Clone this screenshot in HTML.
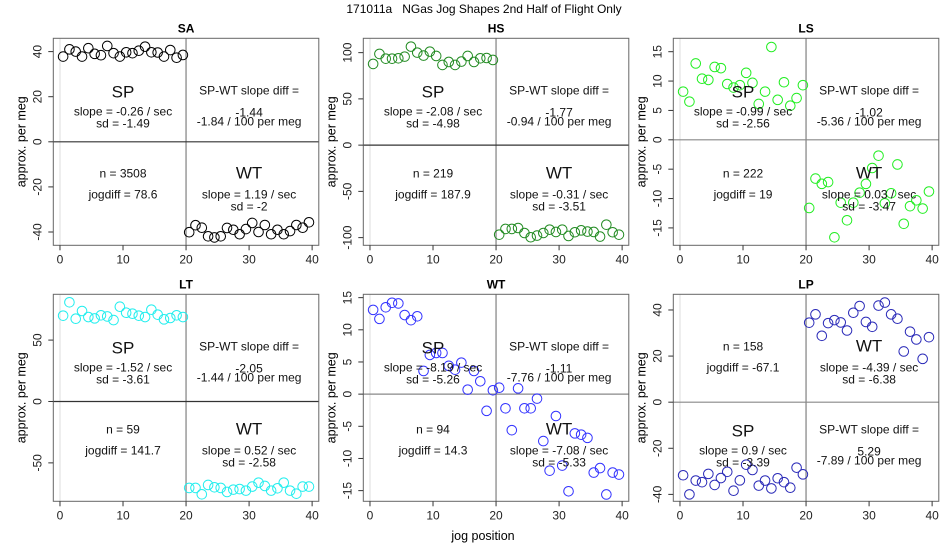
<!DOCTYPE html>
<html><head><meta charset="utf-8"><style>
body{margin:0;background:#fff}
svg{display:block;font-family:"Liberation Sans",sans-serif}
</style></head><body>
<svg id="chart" width="950" height="550" viewBox="0 0 950 550" xmlns="http://www.w3.org/2000/svg">
<text x="484" y="13" font-size="12" text-anchor="middle" fill="#000" style="white-space:pre" xml:space="preserve">171011a   NGas Jog Shapes 2nd Half of Flight Only</text>
<text x="483" y="540" font-size="12.5" text-anchor="middle" fill="#000">jog position</text>
</svg>
<script>
const panelNames = ["SA","HS","LS","LT","WT","LP"];
const spSA = [37.8,41,40,37.8,41.5,39,38.4,42.5,39.3,37.8,39.7,39.3,40.4,42.2,39.7,39.6,37.8,40.7,37.3,38.5];
const wtSA = [-40.1,-37,-38.1,-41.9,-42.4,-41.9,-38.2,-39,-41,-38.7,-36,-40,-36.9,-41,-39,-41,-39.6,-36.9,-38.1,-35.7];
const spHS = [87.8,98.6,93.5,93.5,93.9,95.7,106.5,100,96.8,101.1,96.4,86.7,89.9,86.7,90.3,96.4,89.9,93.9,94.2,92.1];
const wtHS = [-96.8,-90.6,-90.6,-89.6,-95,-99.6,-97.8,-95,-91.4,-93.9,-91.4,-98.2,-94.2,-92.1,-93.5,-93.9,-98.9,-86,-94.2,-96.8];
const spLS = [8.2,6.5,13.0,10.4,10.2,12.4,12.2,9.5,8.9,9.3,11.4,9.7,6.1,8.2,15.8,6.8,9.8,5.8,7.1,9.3];
const wtLS = [-11.6,-6.6,-7.5,-7.2,-16.6,-10.7,-13.7,-10.7,-9.0,-7.5,-4.8,-2.7,-10.8,-9.1,-4.2,-14.3,-11.3,-10.3,-11.7,-8.8];
const spLT = [69.9,80.8,67.4,73.7,68.8,67.7,70.2,69.3,66.3,77.2,72.3,71.5,69.9,68.8,74.8,70.7,66.9,68,70.2,68.8];
const wtLT = [-70.4,-70.4,-75.6,-68,-69.9,-70.4,-73.7,-71.8,-71.3,-72.6,-69.3,-66.1,-68.8,-72.6,-70.7,-66.1,-72.6,-75.1,-69.3,-69.3];
const spWT = [13.1,11.7,13.5,14.2,14.1,12.3,11.5,12.1,3.6,6.1,6.4,6.4,4.4,3.8,4.9,0.7,3.6,2.0,-2.6,0.6];
const wtWT = [1.0,-2.2,-5.6,0.9,-2.2,-2.2,-0.7,-7.3,-11.9,-3.4,-11.1,-15.1,-6.1,-6.3,-6.8,-12.2,-11.5,-15.6,-12.2,-12.5];
const spLP = [-31.7,-40,-34,-34.7,-31.1,-35.9,-32.9,-30.2,-38.4,-33.9,-27.1,-29.4,-36.2,-34,-37.4,-33,-34.7,-37.1,-28.4,-31.3];
const wtLP = [34.5,38.1,28.8,34.3,35.6,34.6,31.1,38.8,41.7,34.8,32.7,41.9,43.2,38.1,36.2,22,30.6,27.2,18.8,28.2];
const xTicks = [0,10,20,30,40];
const yTicksSA = [-40,-20,0,20,40];
const yTicksHS = [-100,-50,0,50,100];
const yTicksLS = [-15,-10,-5,0,5,10,15];
const yTicksLT = [-50,0,50];
const yTicksWT = [-15,-10,-5,0,5,10,15];
const yTicksLP = [-40,-20,0,20,40];
const yLimits = [[-45.9,45.9],[-108.3,115.5],[-17.96,17.28],[-81.3,87.3],[-16.66,15.52],[-43,46.8]];
const spSlope = ["-0.26","-2.08","-0.99","-1.52","-8.19","0.9"];
const spSd = ["-1.49","-4.98","-2.56","-3.61","-5.26","-3.39"];
const wtSlope = ["1.19","-0.31","0.03","0.52","-7.08","-4.39"];
const wtSd = ["-2","-3.51","-3.47","-2.58","-5.33","-6.38"];
const diffVal = ["-1.44","-1.77","-1.02","-2.05","-1.11","5.29"];
const perMeg = ["-1.84","-0.94","-5.36","-1.44","-7.76","-7.89"];
const nVals = ["3508","219","222","59","94","158"];
const jogdiff = ["78.6","187.9","19","141.7","14.3","-67.1"];

const spData=[spSA,spHS,spLS,spLT,spWT,spLP];
const wtData=[wtSA,wtHS,wtLS,wtLT,wtWT,wtLP];
const yTicks=[yTicksSA,yTicksHS,yTicksLS,yTicksLT,yTicksWT,yTicksLP];
const colors=["#000","#228b22","#22ee22","#22eeee","#3333ff","#2a2ab8"];
const zeroCol=["#333","#333","#888","#333","#888","#888"];
const NS="http://www.w3.org/2000/svg";
const svg=document.getElementById('chart');
function mk(tag,attrs,parent){const e=document.createElementNS(NS,tag);for(const k in attrs)e.setAttribute(k,attrs[k]);(parent||svg).appendChild(e);return e;}
const colL=[53.3,363.3,673.3], W=265.5, rowT=[38.3,294.3], H=207;
panelNames.forEach((name,p)=>{
  const L=colL[p%3], T=rowT[Math.floor(p/3)];
  const g=mk('g',{});
  
  
  const [y0,y1]=yLimits[p];
  const sx=v=>L+(v+1.06)/42.12*W;
  const sy=v=>T+(y1-v)/(y1-y0)*H;
  const t=mk('text',{x:L+W/2,y:T-6,'font-size':12,'font-weight':'bold','text-anchor':'middle'},g);t.textContent=name;
  
  
  mk('line',{x1:sx(0),x2:sx(0),y1:T,y2:T+H,stroke:'#ddd'},g);
  mk('line',{x1:sx(20),x2:sx(20),y1:T,y2:T+H,stroke:'#999','stroke-width':1.5},g);
  mk('line',{x1:L,x2:L+W,y1:sy(0),y2:sy(0),stroke:zeroCol[p],'stroke-width':1.2},g);
  const box=mk('rect',{x:L,y:T,width:W,height:H,fill:'none',stroke:'#666'},g);
  
  
  xTicks.forEach(v=>{mk('line',{x1:sx(v),x2:sx(v),y1:T+H,y2:T+H+5,stroke:'#333'},g);
    const tx=mk('text',{x:sx(v),y:T+H+18,'font-size':12,'text-anchor':'middle',fill:'#222'},g);tx.textContent=v;
    
    });
  yTicks[p].forEach(v=>{mk('line',{x1:L,x2:L-5,y1:sy(v),y2:sy(v),stroke:'#333'},g);
    const ty=mk('text',{x:L-12,y:sy(v),'font-size':12,'text-anchor':'middle',fill:'#222',transform:`rotate(-90 ${L-12} ${sy(v)})`,dy:'0'},g);ty.textContent=v;
    
    });
  const yl=mk('text',{x:L-28,y:T+H/2,'font-size':12.5,'text-anchor':'middle',transform:`rotate(-90 ${L-28} ${T+H/2})`},g);yl.textContent='approx. per meg';
  
  
  spData[p].forEach((v,i)=>{const c=mk('circle',{cx:sx(i+0.5),cy:sy(v),r:4.8,fill:'none',stroke:colors[p]},g);
    
    });
  wtData[p].forEach((v,i)=>{const c=mk('circle',{cx:sx(i+20.5),cy:sy(v),r:4.8,fill:'none',stroke:colors[p]},g);
    
    });
  const swap = name==="LP";
  const topY=T, botY=T+83;
  const spX=sx(10), wtX=sx(30);
  const spTop = swap? botY : topY, wtTop = swap? topY : botY;
  const txt=(x,y,s,sz,dn)=>{const e=mk('text',{x:x,y:y,'font-size':sz,'text-anchor':'middle',fill:'#111'},g);e.textContent=s;
    
    };
  txt(spX,spTop+59,'SP',17,'sp-label');
  txt(spX,spTop+77,'slope = '+spSlope[p]+' / sec',12,'sp-slope');
  txt(spX,spTop+89,'sd = '+spSd[p],12,'sp-sd');
  txt(wtX,wtTop+57,'WT',17,'wt-label');
  txt(wtX,wtTop+77,'slope = '+wtSlope[p]+' / sec',12,'wt-slope');
  txt(wtX,wtTop+89,'sd = '+wtSd[p],12,'wt-sd');
  const nT = swap? topY : botY, dT = swap? botY : topY;
  txt(spX,nT+56,'n = '+nVals[p],12,'n-count');
  txt(spX,nT+77,'jogdiff = '+jogdiff[p],12,'jogdiff');
  txt(wtX,dT+56,'SP-WT slope diff =',12,'slope-diff-title');
  txt(wtX,dT+78,diffVal[p],12,'slope-diff-value');
  txt(wtX,dT+87,perMeg[p]+' / 100 per meg',12,'slope-diff-per-meg');
});
</script>
</body></html>
